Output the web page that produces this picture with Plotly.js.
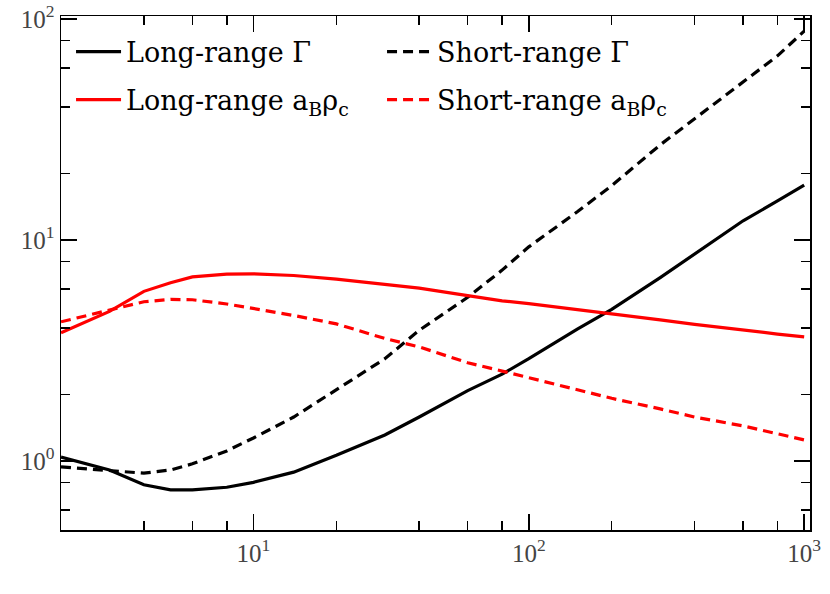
<!DOCTYPE html>
<html>
<head>
<meta charset="utf-8">
<script src="https://cdn.plot.ly/plotly-3.0.1.min.js"></script>
<style>html,body{margin:0;padding:0;background:#fff;}#chart{width:830px;height:594px;}</style>
</head>
<body>
<div id="chart"></div>
<script>
// x values (common grid)
var xVals = [2, 3, 4, 5, 6, 8, 10, 14, 20, 30, 40, 60, 80, 100, 150, 200, 300, 400, 600, 800, 1000];
// Long-range Gamma (solid black)
var longGamma = [1.04, 0.91, 0.78, 0.74, 0.74, 0.76, 0.80, 0.89, 1.06, 1.31, 1.58, 2.08, 2.47, 2.9, 3.95, 4.85, 6.75, 8.65, 12.2, 15.0, 17.7];
// Short-range Gamma (dashed black)
var shortGamma = [0.94, 0.90, 0.88, 0.91, 0.97, 1.11, 1.27, 1.58, 2.1, 2.9, 3.9, 5.5, 7.3, 9.3, 13.4, 17.6, 26.9, 35.2, 51.5, 68, 88];
// Long-range a_B rho_c (solid red)
var longARho = [3.8, 4.75, 5.85, 6.4, 6.8, 7.0, 7.02, 6.9, 6.65, 6.3, 6.05, 5.6, 5.3, 5.15, 4.85, 4.65, 4.35, 4.15, 3.9, 3.75, 3.64];
// Short-range a_B rho_c (dashed red)
var shortARho = [4.26, 4.82, 5.25, 5.38, 5.36, 5.13, 4.9, 4.55, 4.17, 3.58, 3.28, 2.78, 2.55, 2.38, 2.1, 1.92, 1.72, 1.58, 1.44, 1.33, 1.245];

var seriesNames = ['Long-range Γ', 'Short-range Γ', 'Long-range a<sub>B</sub>ρ<sub>c</sub>', 'Short-range a<sub>B</sub>ρ<sub>c</sub>'];

var xMajor = [10, 100, 1000];
var xMajorText = ['10<sup>1</sup>', '10<sup>2</sup>', '10<sup>3</sup>'];
var xMinor = [2, 4, 6, 8, 20, 40, 60, 80, 200, 400, 600, 800];
var yMajor = [1, 10, 100];
var yMajorText = ['10<sup>0</sup>', '10<sup>1</sup>', '10<sup>2</sup>'];
var yMinor = [0.6, 0.8, 2, 4, 6, 8, 20, 40, 60, 80];

var legendFont = 'DejaVu Serif';
var tickFontFamily = 'Liberation Serif';
var dashPat = '10px,6px';
var traces = [
  {x: xVals, y: longGamma, name: seriesNames[0], mode: 'lines', line: {color: '#000000', width: 3.2}, legend: 'legend'},
  {x: xVals, y: shortGamma, name: seriesNames[1], mode: 'lines', line: {color: '#000000', width: 3.2, dash: dashPat}, legend: 'legend'},
  {x: xVals, y: longARho, name: seriesNames[2], mode: 'lines', line: {color: '#ff0000', width: 3.2}, legend: 'legend2'},
  {x: xVals, y: shortARho, name: seriesNames[3], mode: 'lines', line: {color: '#ff0000', width: 3.2, dash: dashPat}, legend: 'legend2'}
];

var axisCommon = {
  type: 'log',
  showgrid: false,
  zeroline: false,
  showline: true,
  linecolor: '#000',
  linewidth: 1.5,
  mirror: 'ticks',
  ticks: 'inside',
  ticklen: 16,
  tickwidth: 1.5,
  tickcolor: '#000',
  tickmode: 'array',
  tickfont: {family: tickFontFamily, size: 25, color: '#444'}
};

function legendCfg(yc) {
  return {
    orientation: 'h',
    x: 0.0134,
    xanchor: 'left',
    y: yc,
    yanchor: 'middle',
    itemwidth: 45,
    entrywidth: 251,
    entrywidthmode: 'pixels',
    bgcolor: 'rgba(0,0,0,0)',
    font: {family: legendFont, size: 27, color: '#000'},
    tracegroupgap: 0
  };
}

var layout = {
  width: 830,
  height: 594,
  margin: {l: 61, r: 20, t: 16, b: 64},
  paper_bgcolor: '#fff',
  plot_bgcolor: '#fff',
  showlegend: true,
  legend: legendCfg(0.930),
  legend2: legendCfg(0.8366),
  xaxis: Object.assign({}, axisCommon, {
    range: [Math.log10(2), Math.log10(1050)],
    tickvals: xMajor,
    ticktext: xMajorText,
    minor: {tickmode: 'array', tickvals: xMinor, ticks: 'inside', ticklen: 9, tickwidth: 1.5, tickcolor: '#000', showgrid: false}
  }),
  yaxis: Object.assign({}, axisCommon, {
    range: [Math.log10(0.487), Math.log10(103)],
    tickvals: yMajor,
    ticktext: yMajorText,
    minor: {tickmode: 'array', tickvals: yMinor, ticks: 'inside', ticklen: 9, tickwidth: 1.5, tickcolor: '#000', showgrid: false}
  })
};

Plotly.newPlot('chart', traces, layout, {displayModeBar: false, staticPlot: true});
</script>
</body>
</html>
